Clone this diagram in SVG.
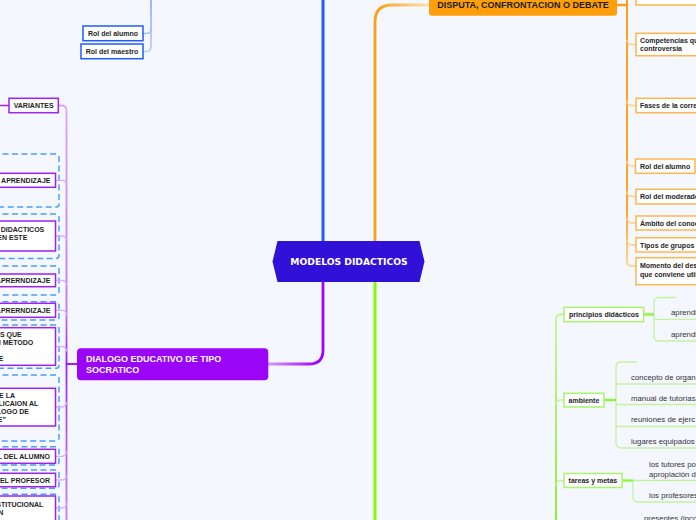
<svg xmlns="http://www.w3.org/2000/svg" width="696" height="520" viewBox="0 0 696 520">
<defs>
<style>
.b7{font-family:"Liberation Sans",Arial,sans-serif;font-weight:bold;font-size:7px;fill:#1e1e24}
.n7{font-family:"Liberation Sans",Arial,sans-serif;font-size:7.8px;fill:#333}
.bx{fill:#fff;stroke-width:1.5}
.blue{stroke:#1f5cfc}
.or{stroke:#fdb64e}
.pu{stroke:#a020f0}
.gr{stroke:#a9f56c}
.bnd{fill:none;stroke:#4a9ff5;stroke-width:1.5;stroke-dasharray:6 3.5}
.ln{fill:none;stroke-linecap:round}
</style>
<linearGradient id="gOr" gradientUnits="userSpaceOnUse" x1="378" y1="0" x2="425" y2="0"><stop offset="0" stop-color="#f9a11b"/><stop offset="1" stop-color="#fcdcab"/></linearGradient>
<linearGradient id="gOrT" gradientUnits="userSpaceOnUse" x1="0" y1="0" x2="0" y2="270"><stop offset="0" stop-color="#f9a11b"/><stop offset="0.78" stop-color="#f9a62a"/><stop offset="1" stop-color="#fdd9a0"/></linearGradient>
<linearGradient id="gPu" gradientUnits="userSpaceOnUse" x1="318" y1="0" x2="268" y2="0"><stop offset="0" stop-color="#a100ff"/><stop offset="1" stop-color="#d59bff"/></linearGradient>
<linearGradient id="gPuT" gradientUnits="userSpaceOnUse" x1="0" y1="106" x2="0" y2="520"><stop offset="0" stop-color="#dba5ff"/><stop offset="0.5" stop-color="#c070ff"/><stop offset="0.623" stop-color="#a020f0"/><stop offset="0.75" stop-color="#b24ef5"/><stop offset="1" stop-color="#c77bff"/></linearGradient>
<linearGradient id="gGrT" gradientUnits="userSpaceOnUse" x1="0" y1="310" x2="0" y2="520"><stop offset="0" stop-color="#c5f59a"/><stop offset="1" stop-color="#84ee14"/></linearGradient>
<linearGradient id="gBlT" gradientUnits="userSpaceOnUse" x1="0" y1="0" x2="0" y2="55"><stop offset="0" stop-color="#8aa5f5"/><stop offset="1" stop-color="#bccdfc"/></linearGradient>
</defs>
<rect width="696" height="520" fill="#f4f7fe"/>

<g id="boundaries">
<rect class="bnd" x="-10" y="154" width="69" height="53" rx="3"/>
<rect class="bnd" x="-10" y="214" width="69" height="44.5" rx="3"/>
<rect class="bnd" x="-10" y="266" width="69" height="29" rx="3"/>
<rect class="bnd" x="-10" y="301.7" width="69" height="18.3" rx="3"/>
<rect class="bnd" x="-10" y="325" width="69" height="43.3" rx="3"/>
<rect class="bnd" x="-10" y="375" width="69" height="66" rx="3"/>
<rect class="bnd" x="-10" y="446.7" width="69" height="18.3" rx="3"/>
<rect class="bnd" x="-10" y="470" width="69" height="18.3" rx="3"/>
<rect class="bnd" x="-10" y="494.3" width="69" height="40" rx="3"/>
</g>

<g id="connectors">
<path class="ln" d="M323,241 V-5" stroke="#1f5dfc" stroke-width="3"/>
<path class="ln" d="M151,-5 V46 Q151,51.5 146,51.5 H143" stroke="url(#gBlT)" stroke-width="1.6"/>
<path class="ln" d="M143,33.5 H146 Q151,33.5 151,28.5" stroke="#a4bbfa" stroke-width="1.4"/>
<path class="ln" d="M375,241 V22 Q375,5 392,5 H429" stroke="url(#gOr)" stroke-width="2.8"/>
<path class="ln" d="M617,5 H627" stroke="#f9a11b" stroke-width="2.5"/>
<path class="ln" d="M627,-10 V261 Q627,266 632,266 H636" stroke="url(#gOrT)" stroke-width="2"/>
<g stroke="#fcd08f" stroke-width="1.4" fill="none">
<path d="M636,-2 H632 Q627,-2 627,-7"/>
<path d="M636,44.5 H632 Q627,44.5 627,39.5"/>
<path d="M636,105.5 H632 Q627,105.5 627,100.5"/>
<path d="M636,166 H632 Q627,166 627,161"/>
<path d="M636,196.5 H632 Q627,196.5 627,191.5"/>
<path d="M636,223 H632 Q627,223 627,218"/>
<path d="M636,245 H632 Q627,245 627,240"/>
</g>
<path class="ln" d="M323,282 V350 Q323,364 309,364 H268" stroke="url(#gPu)" stroke-width="2.8"/>
<path class="ln" d="M77,364 H66.5" stroke="#a020f0" stroke-width="2"/>
<path class="ln" d="M58,105.5 H61.5 Q66.5,105.5 66.5,110.5 V525" stroke="url(#gPuT)" stroke-width="1.8"/>
<path class="ln" d="M9,105.5 H-5" stroke="#a020f0" stroke-width="1.6"/>
<g stroke="#dcaaff" stroke-width="1.3" fill="none">
<path d="M55.5,180.3 H61.5 Q66.5,180.3 66.5,185.3"/>
<path d="M55.5,236 H61.5 Q66.5,236 66.5,241"/>
<path d="M55.5,280.3 H61.5 Q66.5,280.3 66.5,285.3"/>
<path d="M55.5,310.3 H61.5 Q66.5,310.3 66.5,315.3"/>
<path d="M55.5,346.5 H61.5 Q66.5,346.5 66.5,351.5"/>
<path d="M55.5,407 H61.5 Q66.5,407 66.5,402"/>
<path d="M55.5,456.3 H61.5 Q66.5,456.3 66.5,451.3"/>
<path d="M55.5,480 H61.5 Q66.5,480 66.5,475"/>
<path d="M55.5,508 H61.5 Q66.5,508 66.5,503"/>
</g>
<path class="ln" d="M375,282 V525" stroke="#7fff00" stroke-width="3"/>
<path class="ln" d="M564,314.5 H561 Q556,314.5 556,319.5 V525" stroke="url(#gGrT)" stroke-width="1.8"/>
<g stroke="#c4f2a0" stroke-width="1.3" fill="none">
<path d="M564,400 H561 Q556,400 556,405"/>
<path d="M564,480.5 H561 Q556,480.5 556,485.5"/>
<path d="M676,297.5 H659 Q654,297.5 654,302.5 V336 Q654,341 659,341 H700"/>
<path d="M654,319.3 H700"/>
<path d="M637,362 H621 Q616,362 616,367 V443 Q616,448 621,448 H700"/>
<path d="M616,384 H700"/>
<path d="M616,404.5 H700"/>
<path d="M616,426.5 H700"/>
<path d="M633,480.5 H700"/>
<path d="M633,480.5 V497 Q633,502 638,502 H700"/>
</g>
<g stroke="#8cf53c" stroke-width="2.4" fill="none">
<path d="M643.7,314.5 H654"/>
<path d="M604,400 H616"/>
<path d="M622,480.5 H633"/>
</g>
</g>

<g id="center">
<polygon points="272.5,261.5 277.5,241 419.5,241 424.5,261.5 419.5,282 277.5,282" fill="#3110d8"/>
<text x="349" y="265" text-anchor="middle" font-family="DejaVu Sans, Verdana, sans-serif" font-weight="bold" font-size="9.2" fill="#fff">MODELOS DIDACTICOS</text>
</g>

<g id="blue-alumno"><rect class="bx blue" x="83" y="26" width="60" height="14.7"/><text class="b7" x="113" y="36" text-anchor="middle">Rol del alumno</text></g>
<g id="blue-maestro"><rect class="bx blue" x="81" y="44" width="62" height="14.7"/><text class="b7" x="112" y="54" text-anchor="middle">Rol del maestro</text></g>

<g id="disputa">
<rect x="429" y="-10" width="188" height="25.7" rx="3" fill="#fe9e0b"/>
<text x="523" y="8.3" text-anchor="middle" font-family="Liberation Sans, Arial, sans-serif" font-weight="bold" font-size="9" fill="#1d1d1d">DISPUTA, CONFRONTACION O DEBATE</text>
</g>
<g id="or-top"><rect class="bx or" x="636" y="-12" width="70" height="17"/></g>
<g id="or-competencias"><rect class="bx or" x="636" y="33.3" width="70" height="22.4"/><text class="b7" x="640" y="43.2">Competencias que</text><text class="b7" x="640" y="51.2">controversia</text></g>
<g id="or-fases"><rect class="bx or" x="636" y="98.3" width="70" height="14.4"/><text class="b7" x="640" y="108">Fases de la corre</text></g>
<g id="or-alumno"><rect class="bx or" x="635.5" y="159" width="59.5" height="14.3"/><text class="b7" x="640" y="169">Rol del alumno</text></g>
<g id="or-moderador"><rect class="bx or" x="636" y="189.3" width="70" height="14.7"/><text class="b7" x="640" y="199">Rol del moderador</text></g>
<g id="or-ambito"><rect class="bx or" x="636" y="216" width="70" height="14"/><text class="b7" x="640" y="225.5">Ámbito del conoc</text></g>
<g id="or-tipos"><rect class="bx or" x="636" y="237.7" width="70" height="14.3"/><text class="b7" x="640" y="247.5">Tipos de grupos</text></g>
<g id="or-momento"><rect class="bx or" x="636" y="257.7" width="70" height="27"/><text class="b7" x="640" y="268">Momento del des</text><text class="b7" x="640" y="276.5">que conviene util</text></g>

<g id="dialogo">
<rect x="77" y="348.3" width="191.3" height="32" rx="4" fill="#9b05f7"/>
<text x="86" y="362" font-family="Liberation Sans, Arial, sans-serif" font-weight="bold" font-size="9" fill="#fff">DIALOGO EDUCATIVO DE TIPO</text>
<text x="86" y="372.5" font-family="Liberation Sans, Arial, sans-serif" font-weight="bold" font-size="9" fill="#fff">SOCRATICO</text>
</g>
<g id="pu-variantes"><rect class="bx pu" x="9" y="98.3" width="49.3" height="14.4"/><text class="b7" x="33.6" y="108" text-anchor="middle">VARIANTES</text></g>
<g id="pu-1"><rect class="bx pu" x="-10" y="173.3" width="65.5" height="14"/><text class="b7" x="50.5" y="183" text-anchor="end">APRENDIZAJE</text></g>
<g id="pu-2"><rect class="bx pu" x="-10" y="221" width="65.5" height="30"/><text class="b7" x="44.3" y="231.5" text-anchor="end">DIDACTICOS</text><text class="b7" x="27.3" y="239.5" text-anchor="end">EN ESTE</text></g>
<g id="pu-3"><rect class="bx pu" x="-10" y="274" width="65.5" height="12.7"/><text class="b7" x="50.3" y="283" text-anchor="end">APRERNDIZAJE</text></g>
<g id="pu-4"><rect class="bx pu" x="-10" y="303.3" width="65.5" height="14"/><text class="b7" x="50.3" y="313" text-anchor="end">APRERNDIZAJE</text></g>
<g id="pu-5"><rect class="bx pu" x="-10" y="327.7" width="65.5" height="37.6"/><text class="b7" x="21.7" y="336.8" text-anchor="end">S QUE</text><text class="b7" x="33.3" y="345.2" text-anchor="end">N METODO</text><text class="b7" x="3.3" y="361.2" text-anchor="end">E</text></g>
<g id="pu-6"><rect class="bx pu" x="-10" y="388.3" width="65.5" height="37.7"/><text class="b7" x="15" y="398.2" text-anchor="end">E LA</text><text class="b7" x="38.3" y="406.2" text-anchor="end">LICAION AL</text><text class="b7" x="29" y="413.8" text-anchor="end">LOGO DE</text><text class="b7" x="6" y="421.8" text-anchor="end">E”</text></g>
<g id="pu-7"><rect class="bx pu" x="-10" y="449.3" width="65.5" height="14"/><text class="b7" x="50" y="458.8" text-anchor="end">L DEL ALUMNO</text></g>
<g id="pu-8"><rect class="bx pu" x="-10" y="473.3" width="65.5" height="13.4"/><text class="b7" x="50" y="482.5" text-anchor="end">EL PROFESOR</text></g>
<g id="pu-9"><rect class="bx pu" x="-10" y="496" width="65.5" height="34"/><text class="b7" x="43.3" y="506.8" text-anchor="end">STITUCIONAL</text><text class="b7" x="3.3" y="514.8" text-anchor="end">N</text></g>

<g id="gr-principios"><rect class="bx gr" x="564" y="307.3" width="79.7" height="14.4"/><text class="b7" x="569" y="317">principios didácticos</text></g>
<g id="gr-aprend1"><text class="n7" x="671" y="315">aprendi</text></g>
<g id="gr-aprend2"><text class="n7" x="671" y="337">aprendi</text></g>
<g id="gr-ambiente"><rect class="bx gr" x="564" y="393.3" width="40" height="13.7"/><text class="b7" x="568.6" y="402.6">ambiente</text></g>
<g id="gr-concepto"><text class="n7" x="631" y="379.5">concepto de organ</text></g>
<g id="gr-manual"><text class="n7" x="631" y="400.5">manual de tutorías</text></g>
<g id="gr-reuniones"><text class="n7" x="631" y="422">reuniones de ejerc</text></g>
<g id="gr-lugares"><text class="n7" x="631" y="444.3">lugares equipados</text></g>
<g id="gr-tareas"><rect class="bx gr" x="564" y="473.5" width="58" height="14"/><text class="b7" x="568.6" y="483">tareas y metas</text></g>
<g id="gr-tutores"><text class="n7" x="649" y="466.5">los tutores po</text><text class="n7" x="649" y="477.3">apropiación d</text></g>
<g id="gr-profesores"><text class="n7" x="649" y="498">los profesores</text></g>
<g id="gr-presentes"><text class="n7" x="644" y="521">presentes (inco</text></g>
</svg>
